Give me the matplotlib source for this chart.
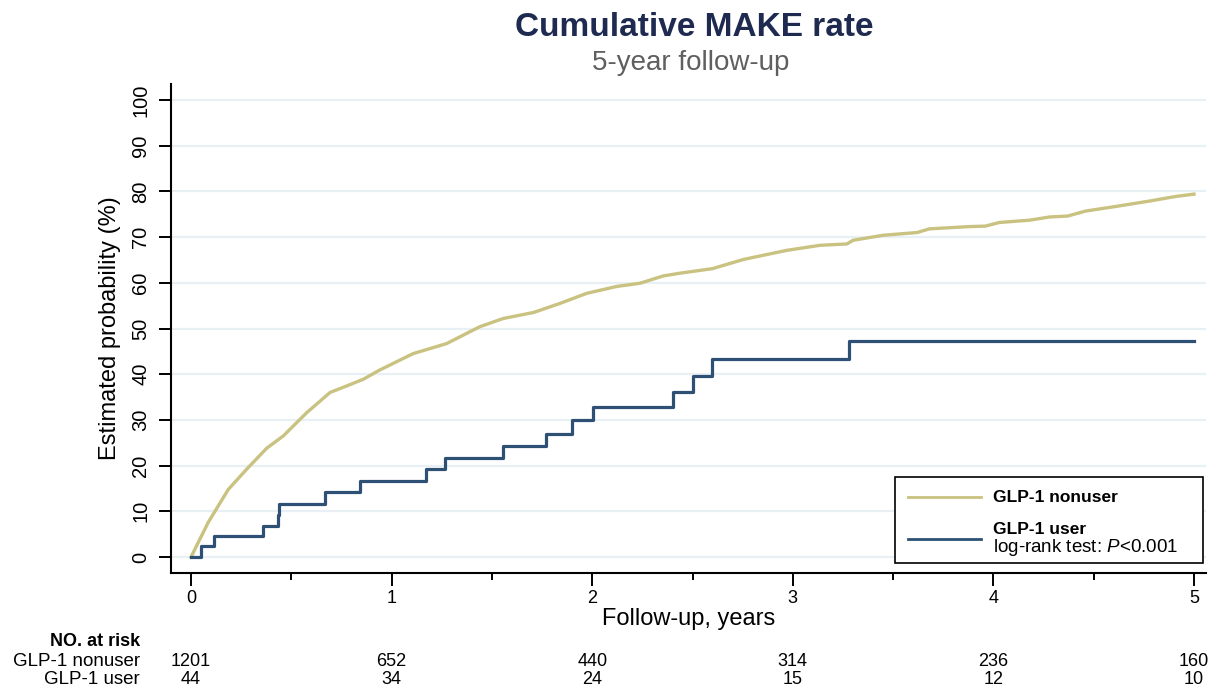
import matplotlib
matplotlib.use("Agg")
import matplotlib.pyplot as plt
from matplotlib.patches import Rectangle
from matplotlib.lines import Line2D
from matplotlib import font_manager

# ---------------- data ----------------
nonuser_t = [0, 0.045, 0.086, 0.14, 0.186, 0.277, 0.377, 0.46, 0.577, 0.693, 0.78, 0.859, 0.94,
             1.107, 1.274, 1.44, 1.557, 1.707, 1.84, 1.973, 2.122, 2.238, 2.354, 2.437, 2.6,
             2.753, 2.97, 3.135, 3.27, 3.30, 3.45, 3.62, 3.68, 3.88, 3.96, 4.03, 4.18, 4.28,
             4.37, 4.46, 4.61, 4.78, 4.91, 5.0]
nonuser_pct = [0, 4.0, 7.6, 11.5, 14.8, 19.2, 23.8, 26.5, 31.6, 36.0, 37.5, 38.9, 40.9,
               44.5, 46.7, 50.4, 52.2, 53.5, 55.5, 57.7, 59.2, 59.9, 61.5, 62.1, 63.1,
               65.1, 67.1, 68.2, 68.5, 69.3, 70.4, 71.0, 71.8, 72.3, 72.4, 73.2, 73.7, 74.4,
               74.6, 75.7, 76.7, 77.9, 78.9, 79.4]

user_t = [0, 0.05, 0.116, 0.357, 0.435, 0.44, 0.67, 0.84, 1.17, 1.265, 1.555, 1.77, 1.9,
          2.005, 2.402, 2.5, 2.598, 3.28, 5.0]
user_pct = [0, 2.3, 4.5, 6.8, 9.3, 11.7, 14.2, 16.7, 19.2, 21.6, 24.2, 27.0, 29.9,
            32.8, 36.1, 39.7, 43.4, 47.2, 47.2]

x_ticks = [0, 1, 2, 3, 4, 5]
y_ticks = [0, 10, 20, 30, 40, 50, 60, 70, 80, 90, 100]
risk_nonuser = [1201, 652, 440, 314, 236, 160]
risk_user = [44, 34, 24, 15, 12, 10]
group_labels = ["GLP-1 nonuser", "GLP-1 user"]

# ---------------- style ----------------
installed = {f.name for f in font_manager.fontManager.ttflist}
BASE = "Liberation Sans" if "Liberation Sans" in installed else "DejaVu Sans"
plt.rcParams["font.family"] = [BASE, "DejaVu Sans"]
plt.rcParams["mathtext.fontset"] = "custom"
plt.rcParams["mathtext.rm"] = BASE
plt.rcParams["mathtext.it"] = BASE + ":italic"

TAN = "#c9c280"
BLUE = "#2d5074"
GRID = "#e8eff5"

W, H = 1219, 688
fig = plt.figure(figsize=(W / 100, H / 100), dpi=100)

def fx(px):
    return px / W

def fy(py):
    return 1 - py / H

left, right, top, bottom = 171, 1206, 84, 573
ax = fig.add_axes([fx(left), fy(bottom), fx(right) - fx(left), fy(top) - fy(bottom)])

ax.plot(nonuser_t, nonuser_pct, color=TAN, lw=2.4, solid_joinstyle="round", zorder=3)
ax.step(user_t, user_pct, where="post", color=BLUE, lw=2.3, zorder=4)

ax.set_xlim(-0.1, 5.06)
ax.set_ylim(-3.5, 103.5)
ax.set_xticks(x_ticks)
ax.set_xticks([0.5, 1.5, 2.5, 3.5, 4.5], minor=True)
ax.set_yticks(y_ticks)
for y in y_ticks:
    ax.axhline(y, color=GRID, lw=1.6, zorder=1)

for s in ["top", "right"]:
    ax.spines[s].set_visible(False)
for s in ["left", "bottom"]:
    ax.spines[s].set_linewidth(1.5)

ax.tick_params(axis="y", which="major", length=9, width=1.4, pad=6, labelsize=14.5,
               labelrotation=90)
for lab in ax.get_yticklabels():
    lab.set_va("center")
ax.tick_params(axis="x", which="major", length=9, width=1.4, pad=3, labelsize=13)
ax.tick_params(axis="x", which="minor", length=5, width=1.4)

ax.set_xlabel("Follow-up, years", fontsize=17, labelpad=1)
ax.set_ylabel("Estimated probability (%)", fontsize=17, labelpad=7)

# titles
fig.text(fx(694), fy(28), "Cumulative MAKE rate", ha="center", va="center",
         fontsize=24, fontweight="bold", color="#1f2a50")
fig.text(fx(691), fy(63), "5-year follow-up", ha="center", va="center",
         fontsize=20, color="#5f5f5f")

# legend (drawn manually)
fig.add_artist(Rectangle((fx(895), fy(563)), fx(1203) - fx(895), fy(477) - fy(563),
                         transform=fig.transFigure, fill=True, facecolor="white",
                         edgecolor="black", lw=1.2, zorder=5))
fig.add_artist(Line2D([fx(908), fx(981)], [fy(497), fy(497)], color=TAN, lw=2,
                      transform=fig.transFigure, zorder=6))
fig.add_artist(Line2D([fx(908), fx(981)], [fy(539), fy(539)], color=BLUE, lw=2,
                      transform=fig.transFigure, zorder=6))
fig.text(fx(993), fy(497), group_labels[0], ha="left", va="center", fontsize=12.5,
         fontweight="bold", zorder=7)
fig.text(fx(993), fy(530), group_labels[1], ha="left", va="center", fontsize=12.5,
         fontweight="bold", zorder=7)
fig.text(fx(993), fy(547), "log-rank test: $\\it{P}$<0.001", ha="left", va="center",
         fontsize=13.5, zorder=7)

# number at risk table
x_to_px = lambda t: ax.transData.transform((t, 0))[0] / W
fig.text(fx(140), fy(641), "NO. at risk", ha="right", va="center", fontsize=13,
         fontweight="bold")
fig.text(fx(140), fy(661), group_labels[0], ha="right", va="center", fontsize=13.5)
fig.text(fx(140), fy(680), group_labels[1], ha="right", va="center", fontsize=13.5)
for t, a, b in zip(x_ticks, risk_nonuser, risk_user):
    xf = x_to_px(t)
    fig.text(xf, fy(661), str(a), ha="center", va="center", fontsize=13)
    fig.text(xf, fy(680), str(b), ha="center", va="center", fontsize=13)

fig.savefig("out.png", dpi=100)
